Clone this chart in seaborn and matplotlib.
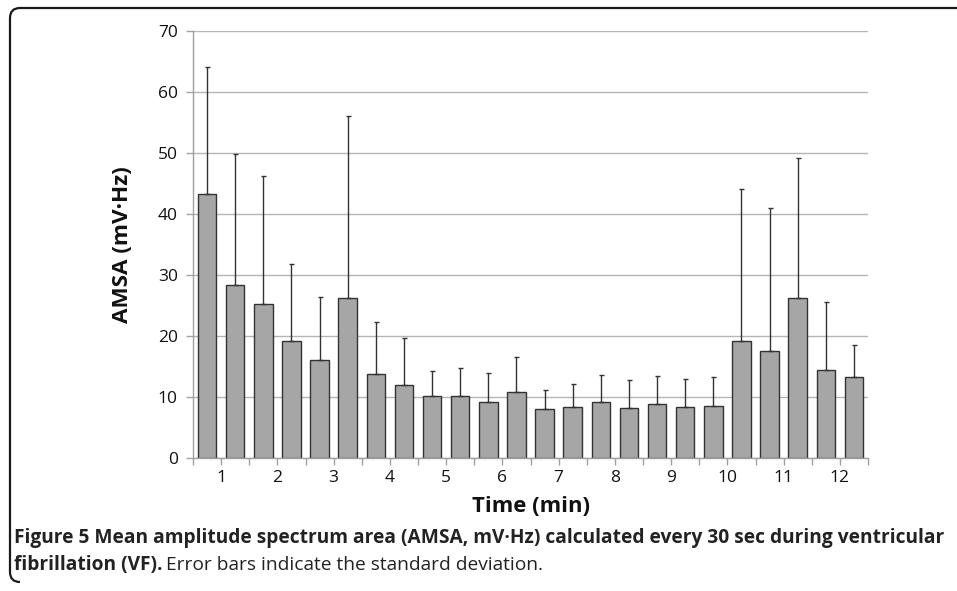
import numpy as np
import pandas as pd
import matplotlib
matplotlib.use("Agg")
import matplotlib.pyplot as plt
import seaborn as sns
from matplotlib.path import Path
from matplotlib.patches import PathPatch

# AMSA (mV.Hz), one bar per 30 sec of VF (24 intervals = 12 min)
amsa_mean = [43.2, 28.4, 25.3, 19.2, 16.1, 26.3, 13.7, 11.9, 10.1, 10.2, 9.1, 10.9,
             8.0, 8.4, 9.1, 8.2, 8.8, 8.3, 8.6, 19.2, 17.6, 26.3, 14.5, 13.2]
amsa_sd = [20.9, 21.4, 21.0, 12.6, 10.3, 29.8, 8.6, 7.7, 4.2, 4.6, 4.8, 5.6,
           3.1, 3.8, 4.5, 4.6, 4.6, 4.6, 4.6, 24.9, 23.4, 22.9, 11.0, 5.3]
minute_labels = [str(m) for m in range(1, 13)]
y_ticks = [0, 10, 20, 30, 40, 50, 60, 70]

df = pd.DataFrame({"interval": np.arange(len(amsa_mean)), "amsa": amsa_mean, "sd": amsa_sd})

sns.set_style("white")
plt.rcParams["font.family"] = ["Open Sans", "DejaVu Sans"]

W, H = 957, 591
fig = plt.figure(figsize=(W / 100, H / 100), dpi=100)
ax = fig.add_axes([193 / W, 1 - 458 / H, (868 - 193) / W, (458 - 31) / H])

sns.barplot(data=df, x="interval", y="amsa", color="#a6a6a6", width=0.66,
            edgecolor="#333333", linewidth=1.0, saturation=1, errorbar=None, ax=ax)
for p in ax.patches:
    p.set_facecolor("#a6a6a6")

# upper error bars only (SD)
ax.errorbar(df["interval"], df["amsa"], yerr=[np.zeros(len(df)), df["sd"]],
            fmt="none", ecolor="#333333", elinewidth=1.0, capsize=1.8, capthick=1.0, zorder=3)

ax.set_xlim(-0.5, len(df) - 0.5)
ax.set_ylim(0, 70)
ax.set_yticks(y_ticks)
ax.set_yticklabels([str(v) for v in y_ticks], fontsize=12.5, color="#111111")
ax.yaxis.grid(True, color="#b5b5b5", linewidth=1.0)
ax.set_axisbelow(True)

ax.set_xticks(np.arange(0.5, len(df), 2))
ax.set_xticklabels(minute_labels, fontsize=12.5, color="#111111")
ax.set_xticks(np.arange(-0.5, len(df) + 0.5, 2), minor=True)
ax.tick_params(axis="x", which="both", direction="out", length=5, width=1,
               color="#a0a0a0", bottom=True, pad=4)
ax.tick_params(axis="y", direction="out", length=5, width=1, color="#a0a0a0", left=True, pad=6)

for s in ["top", "right"]:
    ax.spines[s].set_visible(False)
for s in ["left", "bottom"]:
    ax.spines[s].set_color("#a0a0a0")
    ax.spines[s].set_linewidth(1.0)

ax.set_xlabel("")
ax.set_ylabel("")
fig.text(122 / W, 1 - 245 / H, "AMSA (mV\u00b7Hz)", rotation=90, ha="center", va="center",
         fontsize=16.2, fontweight="bold", color="#111111")
fig.text(531 / W, 1 - 507 / H, "Time (min)", ha="center", va="center",
         fontsize=15.8, fontweight="bold", color="#111111")

# caption
cap_font = ["Liberation Sans Narrow", "Open Sans", "DejaVu Sans"]
fig.text(14 / W, 1 - 538 / H,
         "Figure 5 Mean amplitude spectrum area (AMSA, mV\u00b7Hz) calculated every 30 sec during ventricular",
         ha="left", va="center", fontsize=13.75, fontweight="bold", family=cap_font, color="#222222")
t1 = fig.text(14 / W, 1 - 565 / H, "fibrillation (VF).", ha="left", va="center",
              fontsize=13.75, fontweight="bold", family=cap_font, color="#222222")
fig.canvas.draw()
bb = t1.get_window_extent()
fig.text((bb.x1 + 4) / W, 1 - 565 / H, "Error bars indicate the standard deviation.",
         ha="left", va="center", fontsize=13.75, family=cap_font, color="#222222")

# rounded frame on top/left
verts = [(W, 8), (20, 8), (10, 8), (10, 18), (10, 572), (10, 582), (20, 582)]
codes = [Path.MOVETO, Path.LINETO, Path.CURVE3, Path.CURVE3, Path.LINETO, Path.CURVE3, Path.CURVE3]
verts = [(x / W, 1 - y / H) for x, y in verts]
fig.patches.append(PathPatch(Path(verts, codes), transform=fig.transFigure,
                             fill=False, edgecolor="#1a1a1a", linewidth=1.6))

fig.savefig("out.png", dpi=100)
